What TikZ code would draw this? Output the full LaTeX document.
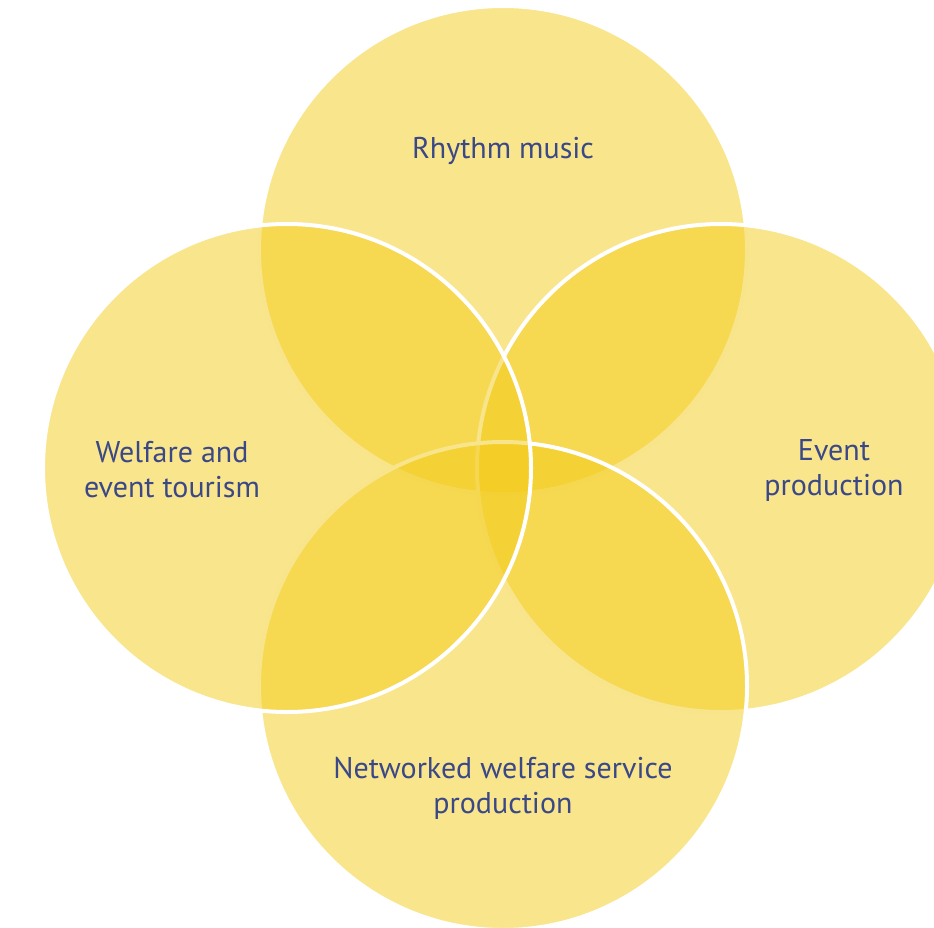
\documentclass[tikz,border=0pt]{standalone}
\usepackage{fontspec}
\setmainfont{PT Sans}
\definecolor{petal}{RGB}{243,203,24}
\definecolor{ink}{RGB}{58,72,135}
\begin{document}
\begin{tikzpicture}[x=1pt,y=-1pt,
  petalc/.style={fill=petal,fill opacity=0.5,draw=white,draw opacity=1,line width=4pt},
  lbl/.style={text=ink,font=\fontsize{30}{35}\selectfont,align=center,inner sep=0pt}]
\useasboundingbox (0,0) rectangle (934,928);
\begin{scope}
\clip (0,0) rectangle (934,928);
\path[petalc] (503,250) circle[radius=244];
\path[petalc] (721,468) circle[radius=244];
\path[petalc] (503,686) circle[radius=244];
\path[petalc] (287,468) circle[radius=244];
\end{scope}
\node[lbl] (rhythm) at (503,151) {Rhythm music};
\node[lbl] (welfare) at (172,470) {Welfare and\\event tourism};
\node[lbl] (event) at (834,470) {Event\\production};
\node[lbl] (network) at (503,788) {Networked welfare service\\production};
\end{tikzpicture}
\end{document}
